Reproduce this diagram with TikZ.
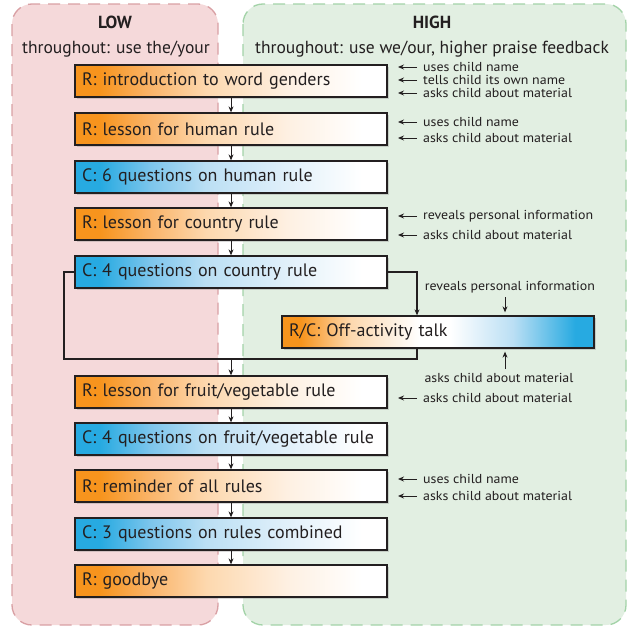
\documentclass[tikz,border=0pt]{standalone}
\usepackage{fontspec}
\setmainfont{PT Sans}
\newfontfamily\condfont[FakeStretch=1.07]{PT Sans}
\usetikzlibrary{arrows.meta,shadows,calc}
\definecolor{myor}{HTML}{F7941D}
\definecolor{orA}{HTML}{FAB469}
\definecolor{orB}{HTML}{FDD8AE}
\definecolor{orC}{HTML}{FEF0E2}
\definecolor{myblue}{HTML}{27AAE1}
\definecolor{blA}{HTML}{7CC5EC}
\definecolor{blB}{HTML}{BBDFF4}
\definecolor{blC}{HTML}{E1F0FA}
\definecolor{boxline}{HTML}{231F20}
\definecolor{redfill}{HTML}{F5D9DA}
\definecolor{redline}{HTML}{D9A0A4}
\definecolor{greenfill}{HTML}{E2EFE2}
\definecolor{greenline}{HTML}{A3D3A8}
\definecolor{txt}{HTML}{231F20}
\pgfdeclarehorizontalshading{orshade}{100bp}{color(0bp)=(myor); color(29bp)=(myor); color(37bp)=(orA); color(46bp)=(orB); color(59bp)=(orC); color(71bp)=(white); color(100bp)=(white)}
\pgfdeclarehorizontalshading{blshade}{100bp}{color(0bp)=(myblue); color(29bp)=(myblue); color(37bp)=(blA); color(46bp)=(blB); color(59bp)=(blC); color(71bp)=(white); color(100bp)=(white)}
\pgfdeclarehorizontalshading{mixshade}{100bp}{color(0bp)=(myor); color(28bp)=(myor); color(36bp)=(orB); color(47bp)=(white); color(52bp)=(white); color(62bp)=(blB); color(72bp)=(myblue); color(100bp)=(myblue)}
\tikzset{
  panelred/.style={fill=redfill, draw=redline, line width=1.3pt, dash pattern=on 12pt off 8pt, rounded corners=20pt},
  panelgreen/.style={fill=greenfill, draw=greenline, line width=1.3pt, dash pattern=on 12pt off 8pt, rounded corners=20pt},
  hdr/.style={text=txt, font=\fontsize{17.5}{20}\selectfont, inner sep=0pt},
  box/.style={draw=boxline, line width=1.3pt, minimum height=32pt, text width=298pt, inner xsep=7pt, inner ysep=0pt, align=left, text=txt, font=\fontsize{18}{21}\selectfont, drop shadow={shadow xshift=2pt, shadow yshift=-2pt, opacity=0.3}},
  rbox/.style={box, shading=orshade},
  cbox/.style={box, shading=blshade},
  arr/.style={-{Stealth[length=6pt,width=5pt]}, line width=0.9pt, draw=boxline},
  link/.style={line width=1.1pt, draw=boxline},
  ann/.style={text=txt, font=\condfont\fontsize{13}{14}\selectfont, inner sep=0pt, anchor=west},
}
\begin{document}
\begin{tikzpicture}[x=1pt,y=-1pt]
\useasboundingbox (0,0) rectangle (629,629);
\fill[white] (0,0) rectangle (629,629);
\draw[panelred] (12,4) rectangle (218,625);
\draw[panelgreen] (243,4) rectangle (626,625);
\node[hdr] (low) at (115,22) {\bfseries LOW};
\node[hdr] (lowsub) at (116,49) {throughout: use the/your};
\node[hdr] (high) at (432,22) {\bfseries HIGH};
\node[hdr] (highsub) at (432,49) {throughout: use we/our, higher praise feedback};

\node[rbox] (b1) at (231,81) {R: introduction to word genders};
\node[rbox] (b2) at (231,129) {R: lesson for human rule};
\node[cbox] (b3) at (231,177) {C: 6 questions on human rule};
\node[rbox] (b4) at (231,224) {R: lesson for country rule};
\node[cbox] (b5) at (231,272) {C: 4 questions on country rule};
\node[box, shading=mixshade] (off) at (438,332) {R/C: Off-activity talk};
\node[rbox] (b7) at (231,392) {R: lesson for fruit/vegetable rule};
\node[cbox] (b8) at (231,439) {C: 4 questions on fruit/vegetable rule};
\node[rbox] (b9) at (231,486) {R: reminder of all rules};
\node[cbox] (b10) at (231,534) {C: 3 questions on rules combined};
\node[rbox] (b11) at (231,581) {R: goodbye};

\draw[arr] (b1) -- (b2);
\draw[arr] (b2) -- (b3);
\draw[arr] (b3) -- (b4);
\draw[arr] (b4) -- (b5);
\draw[arr] (b7) -- (b8);
\draw[arr] (b8) -- (b9);
\draw[arr] (b9) -- (b10);
\draw[arr] (b10) -- (b11);

\coordinate (lc) at (64,359);
\coordinate (rc) at (417,359);
\coordinate (jn) at (231,359);
\draw[link, -{Stealth[length=6pt,width=5pt]}] (b5.east) -| (off.north -| rc);
\draw[link] (b5.west) -| (lc) -- (rc) -- (off.south -| rc);
\draw[arr] (jn) -- (b7.north);

\node[ann] (a1) at (423,67) {uses child name};
\node[ann] (a2) at (423,80) {tells child its own name};
\node[ann] (a3) at (423,93) {asks child about material};
\node[ann] (a4) at (423,122) {uses child name};
\node[ann] (a5) at (423,138) {asks child about material};
\node[ann] (a6) at (423,216) {reveals personal information};
\node[ann] (a7) at (423,235) {asks child about material};
\node[ann, anchor=center] (a8) at (510,287) {reveals personal information};
\node[ann, anchor=center] (a9) at (499,378) {asks child about material};
\node[ann] (a10) at (423,398) {asks child about material};
\node[ann] (a11) at (423,479) {uses child name};
\node[ann] (a12) at (423,496) {asks child about material};
\foreach \a in {a1,a2,a3,a4,a5,a6,a7,a10,a11,a12}{
  \draw[arr] ([xshift=-6pt]\a.west) -- ++(-19pt,0);
}
\coordinate (ax) at (505,0);
\draw[arr] ([yshift=-4pt]a8.south -| ax) -- ([yshift=3pt]off.north -| ax);
\draw[arr] ([yshift=4pt]a9.north -| ax) -- ([yshift=-3pt]off.south -| ax);
\end{tikzpicture}
\end{document}
